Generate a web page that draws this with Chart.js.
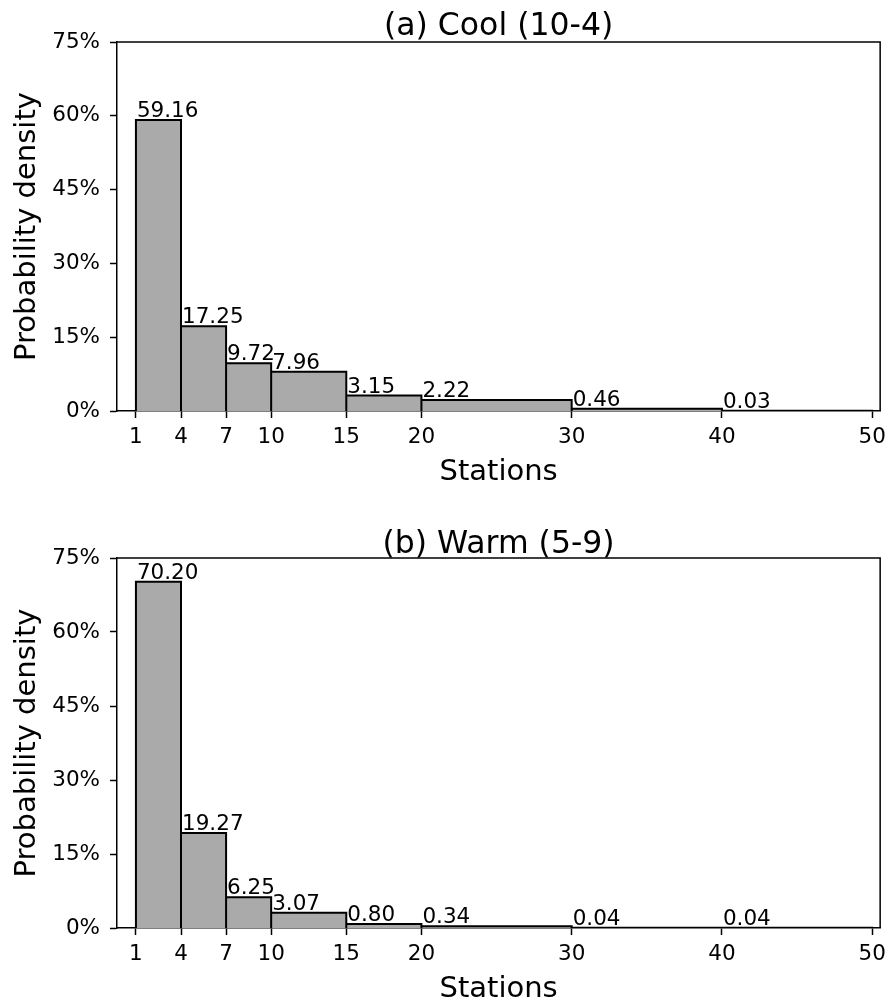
<!DOCTYPE html>
<html>
<head>
<meta charset="utf-8">
<script src="https://cdn.jsdelivr.net/npm/chart.js@4.4.0/dist/chart.umd.min.js"></script>
<style>
    html, body { margin: 0; padding: 0; background: #fff; }
    .panel { position: absolute; left: 0; width: 893px; }
    #panelA { top: 0; height: 516px; }
    #panelB { top: 516px; height: 490px; }
</style>
</head>
<body>
<div class="panel" id="panelA"><canvas id="chartA" width="893" height="516"></canvas></div>
<div class="panel" id="panelB"><canvas id="chartB" width="893" height="490"></canvas></div>
<script>
// bin edges (stations) and probability density (%) per bin
const binEdges = [1, 4, 7, 10, 15, 20, 30, 40, 50];
const coolDensity = [59.16, 17.25, 9.72, 7.96, 3.15, 2.22, 0.46, 0.03];
const warmDensity = [70.20, 19.27, 6.25, 3.07, 0.80, 0.34, 0.04, 0.04];
const xTickValues = [1, 4, 7, 10, 15, 20, 30, 40, 50];
const yTickValues = [0, 15, 30, 45, 60, 75];

const FONT = "'DejaVu Sans', sans-serif";

// outline of the histogram: each bin as a closed box
function histPoints(values) {
    const pts = [];
    values.forEach(function (v, i) {
        pts.push({ x: binEdges[i], y: 0 });
        pts.push({ x: binEdges[i], y: v });
        pts.push({ x: binEdges[i + 1], y: v });
        pts.push({ x: binEdges[i + 1], y: 0 });
    });
    return pts;
}

const barLabels = {
    id: 'barLabels',
    afterDatasetsDraw(chart, args, opts) {
        const { ctx, scales: { x, y } } = chart;
        ctx.save();
        ctx.font = '21.5px ' + FONT;
        ctx.fillStyle = '#000';
        ctx.textAlign = 'left';
        ctx.textBaseline = 'alphabetic';
        opts.values.forEach(function (v, i) {
            ctx.fillText(v.toFixed(2), x.getPixelForValue(binEdges[i]) + 1, y.getPixelForValue(v) - 3);
        });
        ctx.restore();
    }
};

const frame = {
    id: 'frame',
    afterDraw(chart) {
        const { ctx, chartArea: a } = chart;
        ctx.save();
        ctx.strokeStyle = '#000';
        ctx.lineWidth = 1.5;
        ctx.beginPath();
        ctx.moveTo(a.left, a.top);
        ctx.lineTo(a.right, a.top);
        ctx.lineTo(a.right, a.bottom);
        ctx.stroke();
        ctx.restore();
    }
};

function makePanel(id, title, values, titlePad, bottomPad) {
    return new Chart(document.getElementById(id), {
        type: 'line',
        data: {
            datasets: [{
                data: histPoints(values),
                borderColor: '#000',
                borderWidth: 2,
                backgroundColor: '#aaaaaa',
                fill: 'origin',
                pointRadius: 0,
                tension: 0
            }]
        },
        plugins: [barLabels, frame],
        options: {
            responsive: false,
            animation: false,
            events: [],
            layout: { padding: { left: 0, right: 10, top: 0, bottom: bottomPad } },
            plugins: {
                legend: { display: false },
                tooltip: { enabled: false },
                title: {
                    display: true,
                    fullSize: false,
                    text: title,
                    color: '#000',
                    font: { family: FONT, size: 31.5, weight: 'normal', lineHeight: 1 },
                    padding: titlePad
                },
                barLabels: { values: values }
            },
            scales: {
                x: {
                    type: 'linear',
                    min: -0.26,
                    max: 50.53,
                    afterBuildTicks: function (s) { s.ticks = xTickValues.map(v => ({ value: v })); },
                    afterFit: function (s) { s.height = 78; },
                    grid: { drawOnChartArea: false, drawTicks: true, tickLength: 7, tickWidth: 1.5, tickColor: '#000' },
                    border: { display: true, color: '#000', width: 1.5 },
                    ticks: {
                        color: '#000',
                        padding: 7,
                        maxRotation: 0,
                        autoSkip: false,
                        font: { family: FONT, size: 21.5 },
                        callback: v => String(v)
                    },
                    title: {
                        display: true,
                        text: 'Stations',
                        color: '#000',
                        font: { family: FONT, size: 29, lineHeight: 1 },
                        padding: { top: 0, bottom: 2 }
                    }
                },
                y: {
                    min: 0,
                    max: 75,
                    afterBuildTicks: function (s) { s.ticks = yTickValues.map(v => ({ value: v })); },
                    afterFit: function (s) { s.width = 117; },
                    grid: { drawOnChartArea: false, drawTicks: true, tickLength: 7, tickWidth: 1.5, tickColor: '#000' },
                    border: { display: true, color: '#000', width: 1.5 },
                    ticks: {
                        color: '#000',
                        padding: 10,
                        font: { family: FONT, size: 21.5 },
                        callback: v => v + '%'
                    },
                    title: {
                        display: true,
                        text: 'Probability density',
                        color: '#000',
                        font: { family: FONT, size: 29, lineHeight: 1 },
                        padding: { top: 13, bottom: 0 }
                    }
                }
            }
        }
    });
}

makePanel('chartA', '(a) Cool (10-4)', coolDensity, { top: 10.75, bottom: -0.25 }, 27);
makePanel('chartB', '(b) Warm (5-9)', warmDensity, { top: 12.75, bottom: -2.25 }, 0);
</script>
</body>
</html>
